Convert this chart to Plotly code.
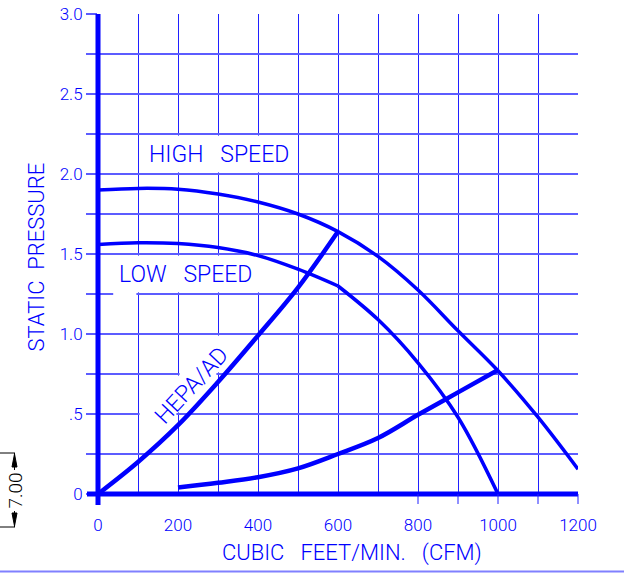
import plotly.graph_objects as go

# ---- data ----
high_x = [0, 100, 200, 300, 400, 500, 600, 700, 800, 900, 1000, 1100, 1200]
high_y = [1.90, 1.91, 1.905, 1.875, 1.825, 1.75, 1.64, 1.485, 1.275, 1.02, 0.77, 0.48, 0.155]

low_a_x = [0, 100, 200, 300, 400, 500, 600]
low_a_y = [1.56, 1.57, 1.565, 1.54, 1.49, 1.405, 1.30]
low_b_x = [600, 700, 800, 900, 1000]
low_b_y = [1.30, 1.09, 0.82, 0.48, 0.0]

hepa_x = [0, 100, 200, 300, 400, 500, 600]
hepa_y = [0.0, 0.20, 0.43, 0.70, 0.99, 1.29, 1.64]

sys2_x = [200, 300, 400, 500, 600, 700, 800, 900, 1000]
sys2_y = [0.04, 0.07, 0.105, 0.16, 0.25, 0.35, 0.495, 0.635, 0.775]

x_ticks = list(range(0, 1201, 100))
x_labels = [str(v) if v % 200 == 0 else "" for v in x_ticks]
y_ticks = [i * 0.25 for i in range(13)]
y_label_map = {0: "0", 0.5: ".5", 1.0: "1.0", 1.5: "1.5", 2.0: "2.0", 2.5: "2.5", 3.0: "3.0"}
y_labels = [y_label_map.get(v, "") for v in y_ticks]

BLUE = "#0000ff"
HGRID = "#5c5cff"
VGRID = "#2020ff"
FONT = "Roboto"
NB = "\u00a0"

W, H = 624, 573
L, R, T, B = 98, 46, 14, 79
PW, PH = W - L - R, H - T - B
X0, X1 = 0, 1200
Y0, Y1 = 0, 3


def px(xp):
    return (xp - L) / PW


def py(yp):
    return (H - B - yp) / PH


def dx(v):
    return (v - X0) / (X1 - X0)


def dy(v):
    return (v - Y0) / (Y1 - Y0)


fig = go.Figure()
line_w = 3.5
spl = dict(shape="spline", smoothing=1.0)
fig.add_trace(go.Scatter(x=high_x, y=high_y, mode="lines", line=dict(color=BLUE, width=line_w, **spl)))
fig.add_trace(go.Scatter(x=low_a_x, y=low_a_y, mode="lines", line=dict(color=BLUE, width=line_w, **spl)))
fig.add_trace(go.Scatter(x=low_b_x, y=low_b_y, mode="lines", line=dict(color=BLUE, width=line_w, **spl)))
fig.add_trace(go.Scatter(x=hepa_x, y=hepa_y, mode="lines", line=dict(color=BLUE, width=4.5, **spl)))
fig.add_trace(go.Scatter(x=sys2_x, y=sys2_y, mode="lines", line=dict(color=BLUE, width=4.5, **spl)))

shapes = []


def mask_v(xv, ya, yb):
    shapes.append(dict(type="line", xref="x", yref="y", x0=xv, x1=xv, y0=ya + 0.01, y1=yb - 0.01,
                       line=dict(color="white", width=4), layer="between"))


def mask_h(yv, xa, xb):
    shapes.append(dict(type="line", xref="x", yref="y", x0=xa, x1=xb, y0=yv, y1=yv,
                       line=dict(color="white", width=4), layer="between"))


for xv in (200, 300, 400):
    mask_v(xv, 2.0, 2.25)
for xv in (100, 200, 300, 400):
    mask_v(xv, 1.25, 1.5)
mask_h(1.25, 38, 96)
mask_v(300, 0.75, 1.0)
mask_v(200, 0.5, 0.75)
mask_h(0.75, 204, 296)
mask_h(0.5, 104, 196)

# thick axes
shapes.append(dict(type="line", xref="paper", yref="paper", x0=px(87), x1=dx(1200), y0=dy(0), y1=dy(0),
                   line=dict(color=BLUE, width=5)))
shapes.append(dict(type="line", xref="paper", yref="paper", x0=dx(0), x1=dx(0), y0=py(505), y1=dy(3.0),
                   line=dict(color=BLUE, width=5)))
for xv in (800, 900, 1000, 1100, 1200):
    shapes.append(dict(type="line", xref="paper", yref="paper", x0=dx(xv), x1=dx(xv), y0=dy(0), y1=py(504),
                       line=dict(color=VGRID, width=1)))
# bottom frame line
shapes.append(dict(type="line", xref="paper", yref="paper", x0=px(0), x1=px(W), y0=py(571.5), y1=py(571.5),
                   line=dict(color="#8080ff", width=2)))
# 7.00 dimension
blk = "black"
for yy in (453, 527):
    shapes.append(dict(type="line", xref="paper", yref="paper", x0=px(0), x1=px(15), y0=py(yy), y1=py(yy),
                       line=dict(color=blk, width=1)))
shapes.append(dict(type="line", xref="paper", yref="paper", x0=px(14.5), x1=px(14.5), y0=py(453), y1=py(470),
                   line=dict(color=blk, width=1)))
shapes.append(dict(type="line", xref="paper", yref="paper", x0=px(14.5), x1=px(14.5), y0=py(511), y1=py(527),
                   line=dict(color=blk, width=1)))


def tri(xt, yt, yb, hw):
    return dict(type="path", xref="paper", yref="paper",
                path=f"M {px(xt)} {py(yt)} L {px(xt - hw)} {py(yb)} L {px(xt + hw)} {py(yb)} Z",
                fillcolor=blk, line=dict(color=blk, width=1))


shapes.append(tri(14.5, 454, 467, 2.5))
shapes.append(tri(14.5, 526, 513, 2.5))

lab_font = dict(family=FONT, size=22, color=BLUE, weight=300)
C = dict(xanchor="center", yanchor="middle", showarrow=False)
annotations = [
    dict(x=303, y=2.12, xref="x", yref="y", text="HIGH" + NB * 3 + "SPEED",
         font=dict(family=FONT, size=23, color=BLUE, weight=300), **C),
    dict(x=219, y=1.37, xref="x", yref="y", text="LOW" + NB * 3 + "SPEED",
         font=dict(family=FONT, size=23, color=BLUE, weight=300), **C),
    dict(x=234, y=0.68, xref="x", yref="y", text="HEPA/AD", textangle=-47,
         font=dict(family=FONT, size=23, color=BLUE, weight=300), **C),
    dict(x=px(35.5), y=py(257), xref="paper", yref="paper", text="STATIC" + NB * 2 + "PRESSURE",
         textangle=-90, font=dict(family=FONT, size=22, color=BLUE, weight=300), **C),
    dict(x=px(352), y=py(553), xref="paper", yref="paper",
         text="CUBIC" + NB * 3 + "FEET/MIN." + NB * 3 + "(CFM)",
         font=dict(family=FONT, size=22, color=BLUE, weight=300), **C),
    dict(x=px(14.5), y=py(491), xref="paper", yref="paper", text="7.00", textangle=-90,
         bgcolor="white", font=dict(family=FONT, size=19, color=blk, weight=300), **C),
]

tick_font = dict(family=FONT, size=17, color=BLUE, weight=300)
fig.update_layout(
    width=W, height=H,
    margin=dict(l=L, r=R, t=T, b=B, autoexpand=False),
    paper_bgcolor="white", plot_bgcolor="white",
    showlegend=False,
    shapes=shapes,
    annotations=annotations,
    xaxis=dict(range=[X0, X1], tickvals=x_ticks, ticktext=x_labels, showgrid=True,
               gridcolor=VGRID, gridwidth=1, zeroline=False, showline=False, automargin=False,
               ticks="outside", ticklen=16, tickcolor="rgba(0,0,0,0)",
               tickfont=tick_font, fixedrange=True),
    yaxis=dict(range=[Y0, Y1], tickvals=y_ticks, ticktext=y_labels, showgrid=True,
               gridcolor=HGRID, gridwidth=1.6, zeroline=False, showline=False, automargin=False,
               ticks="outside", ticklen=11, tickcolor=HGRID, tickwidth=1.6,
               tickfont=tick_font, fixedrange=True),
)

fig.write_html("out.html", config={"displayModeBar": False},
               post_script="document.body.style.margin='0';document.body.style.overflow='hidden';")
